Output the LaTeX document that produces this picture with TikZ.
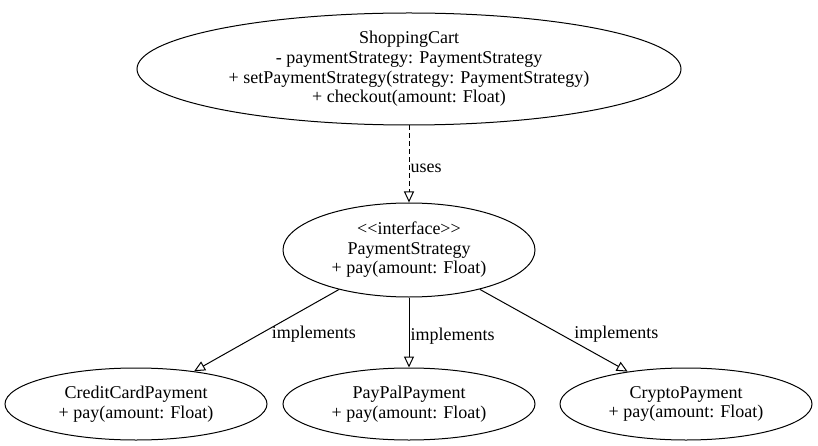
\documentclass[tikz,border=0pt]{standalone}
\usepackage{fontspec}
\setmainfont{Liberation Serif}
\usetikzlibrary{arrows.meta,shapes.geometric}

\tikzset{
  cls/.style={draw, ellipse, inner sep=0pt, align=center, line width=1pt,
    font=\fontsize{18}{19.6}\selectfont},
  rel/.style={line width=1pt, -{Triangle[open,length=11pt,width=10pt]}},
  lbl/.style={font=\fontsize{18}{19}\selectfont, inner sep=1pt, yshift=-4pt}
}

\begin{document}
\begin{tikzpicture}[x=1pt, y=-1pt]
\useasboundingbox (0,0) rectangle (818,446);

\node[cls, minimum width=544pt, minimum height=112pt] (cart) at (409,69)
  {ShoppingCart\\- paymentStrategy: PaymentStrategy\\+ setPaymentStrategy(strategy: PaymentStrategy)\\+ checkout(amount: Float)};
\node[cls, minimum width=252pt, minimum height=94pt] (strategy) at (409,250)
  {{<}{<}interface{>}{>}\\PaymentStrategy\\+ pay(amount: Float)};

\node[cls, minimum width=262pt, minimum height=72pt] (credit) at (136,404)
  {CreditCardPayment\\+ pay(amount: Float)};
\node[cls, minimum width=252pt, minimum height=72pt] (paypal) at (409,404)
  {PayPalPayment\\+ pay(amount: Float)};
\node[cls, minimum width=252pt, minimum height=72pt] (crypto) at (686,404)
  {CryptoPayment\\+ pay(amount: Float)};

\draw[rel, dash pattern=on 5pt off 3pt] (cart) -- node[lbl, anchor=west] {uses} (strategy);

\draw[rel] (strategy) -- node[lbl, anchor=west, xshift=4pt] {implements} (credit);
\draw[rel] (strategy) -- node[lbl, anchor=west] {implements} (paypal);
\draw[rel] (strategy) -- node[lbl, anchor=west, xshift=19pt] {implements} (crypto);

\end{tikzpicture}
\end{document}
